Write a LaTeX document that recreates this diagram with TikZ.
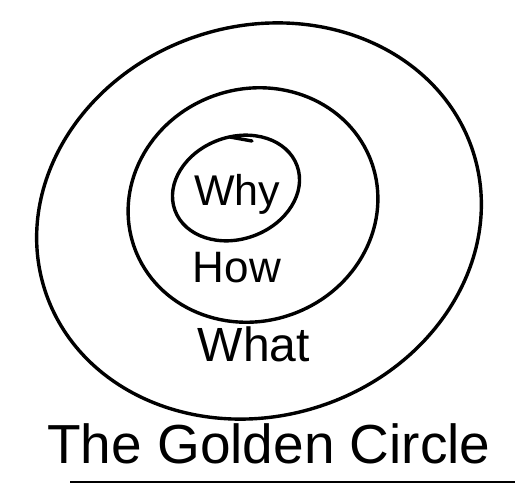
\documentclass[tikz,border=0pt]{standalone}
\usepackage{fontspec}
\setmainfont{Liberation Sans}
\usepackage{tikz}
\usetikzlibrary{positioning,calc}
\tikzset{RING/.style={line width=3.4pt, line join=round, line cap=round}}
\tikzset{LABEL/.style={inner sep=0pt, anchor=center}}
\tikzset{UNDERLINE/.style={line width=2.6pt}}

\begin{document}
\begin{tikzpicture}[x=1pt,y=-1pt]

\useasboundingbox (0,0) rectangle (515,496);

% outer ring (What)
\draw[RING, rotate around={18:(259,221)}] (259,221) ellipse [x radius=225, y radius=195];

% middle ring (How)
\draw[RING, rotate around={20:(253,205)}] (253,205) ellipse [x radius=126, y radius=116];

% inner ring (Why), with the pen stroke running on at the top
\draw[RING, rotate around={20:(236,188)}] (236,188) ellipse [x radius=65, y radius=51];
\coordinate (c_tail_start) at (230,137);
\coordinate (c_tail_end) at (252,141);
\draw[RING] (c_tail_start) -- (c_tail_end);

\node[LABEL] (n_why) at (237,194) {\fontsize{43}{47}\selectfont Why};
\node[LABEL] (n_how) at (237,268) {\fontsize{44}{48}\selectfont How};
\node[LABEL] (n_what) at (254,344) {\fontsize{48}{52}\selectfont What};

\node[LABEL, anchor=base] (n_title) at (269,463) {\fontsize{55}{59}\selectfont The Golden Circle};

\coordinate (c_line_start) at (70,482);
\coordinate (c_line_end) at (515,482);
\draw[UNDERLINE] (c_line_start) -- (c_line_end);

\end{tikzpicture}
\end{document}
